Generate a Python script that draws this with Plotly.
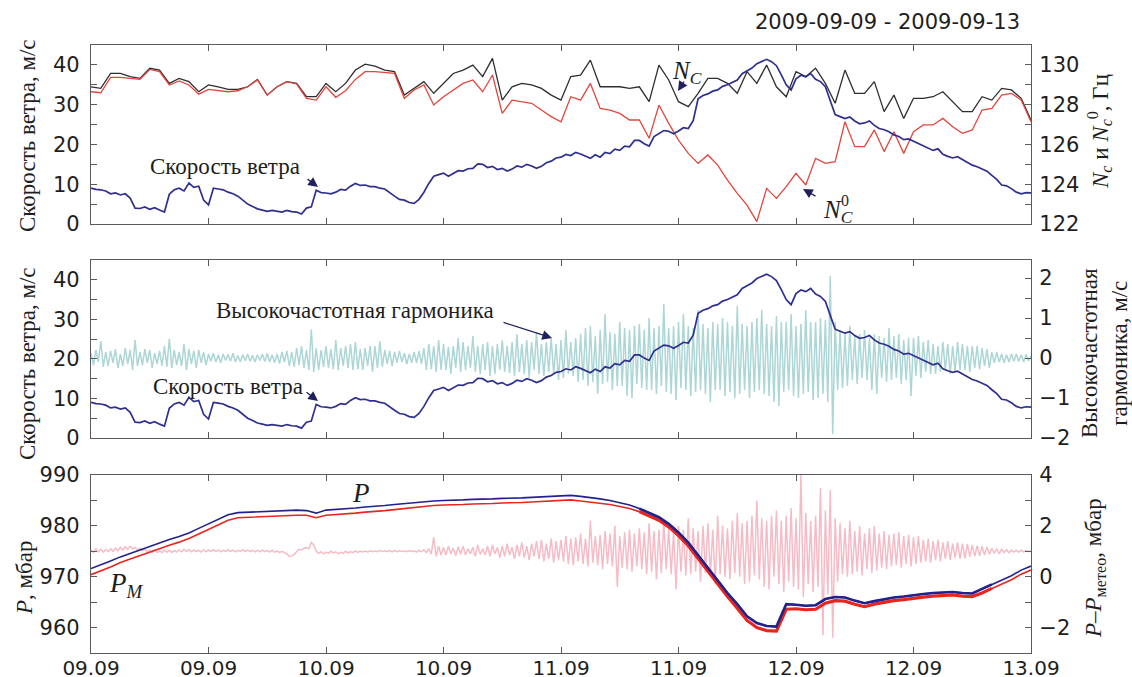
import numpy as np
import plotly.graph_objects as go

# ---- time axis (hours from 2009-09-09 00:00) ----
tick_hours = [0, 12, 24, 36, 48, 60, 72, 84, 96]
tick_labels = ["09.09", "09.09", "10.09", "10.09", "11.09", "11.09", "12.09", "12.09", "13.09"]

# wind speed, m/s, every 0.5 h
wind_speed = [
    9.0, 8.7, 8.6, 8.3, 7.6, 7.8, 7.3, 7.6, 6.5, 4.0,
    3.9, 4.3, 3.7, 4.1, 3.5, 3.0, 7.5, 8.6, 9.0, 8.3,
    10.3, 9.2, 9.5, 6.0, 4.8, 9.0, 8.8, 8.6, 8.0, 7.6,
    7.0, 6.0, 5.0, 4.4, 3.8, 3.5, 3.2, 3.4, 3.2, 3.0,
    3.4, 3.1, 3.0, 2.5, 4.0, 4.3, 8.5, 7.9, 7.8, 7.6,
    8.0, 8.7, 8.5, 9.5, 10.2, 9.7, 9.8, 9.4, 9.4, 9.0,
    8.8, 7.8, 7.0, 6.2, 6.0, 5.4, 5.2, 6.2, 8.0, 10.2,
    12.0, 12.4, 12.8, 12.0, 12.8, 13.4, 13.3, 13.9, 14.0, 15.1,
    15.0, 14.2, 14.5, 13.7, 14.0, 13.3, 13.8, 14.6, 14.3, 15.0,
    14.6, 14.0, 14.5, 15.4, 15.8, 16.6, 16.8, 17.5, 17.2, 18.0,
    17.6, 17.0, 16.5, 17.4, 16.8, 18.0, 17.7, 18.8, 18.5, 19.6,
    19.4, 21.0, 21.0, 20.2, 19.6, 22.0, 22.8, 23.5, 23.3, 22.7,
    23.4, 24.2, 24.0, 26.0, 31.5, 32.3, 32.7, 33.4, 33.7, 34.6,
    35.0, 35.6, 36.2, 37.8, 38.5, 39.2, 40.3, 40.9, 41.4, 40.8,
    39.8, 37.5, 35.0, 33.7, 36.5, 37.4, 37.0, 37.8, 36.4, 35.8,
    34.5, 31.0, 27.5, 27.0, 26.5, 26.9, 25.9, 25.2, 25.4, 25.9,
    24.8, 24.0, 23.7, 23.2, 22.4, 22.0, 21.2, 21.4, 20.8, 20.1,
    19.6, 19.0, 18.5, 18.9, 17.5, 17.0, 16.6, 16.9, 16.2, 15.4,
    14.8, 14.4, 13.8, 13.3, 12.2, 11.2, 9.8, 9.6, 8.9, 8.0,
    7.6, 7.9, 7.8,
]

# N_C and N_C^0, Hz, hourly
nc = [
    128.90, 128.82, 129.57, 129.57, 129.41, 129.32, 129.83, 129.74, 129.07, 129.32,
    129.16, 128.65, 128.99, 128.90, 128.77, 128.77, 128.90, 129.27, 128.48, 128.90,
    129.16, 129.07, 128.40, 128.40, 129.07, 128.65, 129.07, 129.74, 130.04, 129.94,
    129.74, 129.66, 128.48, 128.82, 129.16, 128.57, 129.07, 129.57, 129.74, 129.99,
    129.41, 130.33, 128.23, 128.90, 129.07, 128.99, 128.82, 128.48, 128.23, 129.41,
    129.49, 130.24, 128.90, 128.90, 128.90, 128.82, 128.90, 128.15, 129.99, 129.24,
    128.15, 127.90, 128.57, 129.32, 129.32, 129.07, 128.57, 129.66, 129.07, 129.99,
    128.90, 128.40, 129.66, 129.41, 129.83, 129.07, 128.07, 129.74, 128.57, 128.57,
    129.16, 127.65, 128.48, 127.31, 128.32, 128.32, 128.40, 128.65, 128.15, 127.65,
    127.65, 128.40, 128.23, 128.82, 128.74, 128.32, 127.23,
]
nc0 = [
    128.65, 128.60, 129.37, 129.37, 129.32, 129.27, 129.77, 129.66, 128.99, 129.19,
    128.99, 128.53, 128.77, 128.70, 128.65, 128.70, 128.90, 129.24, 128.48, 128.90,
    129.16, 129.04, 128.32, 128.23, 128.90, 128.37, 128.70, 129.27, 129.66, 129.66,
    129.61, 129.57, 128.32, 128.74, 128.99, 127.98, 128.40, 128.74, 129.07, 129.24,
    128.65, 129.49, 127.56, 128.23, 128.15, 128.07, 127.73, 127.40, 127.14, 128.40,
    128.23, 129.07, 127.81, 127.73, 127.56, 127.23, 127.23, 126.31, 127.98, 127.06,
    126.22, 125.55, 125.05, 125.47, 124.96, 124.21, 123.54, 122.95, 122.12, 123.79,
    123.29, 123.88, 124.55, 123.96, 125.30, 125.05, 125.13, 127.14, 125.89, 125.89,
    126.73, 125.64, 126.64, 125.55, 126.64, 126.98, 126.98, 127.31, 126.89, 126.56,
    126.73, 127.73, 127.81, 128.48, 128.57, 128.23, 127.14,
]

# high-frequency harmonic of wind speed, m/s, every 0.25 h
hf_harmonic = [
    0.12, -0.18, 0.2, -0.1, 0.42, -0.22, 0.15, -0.2,
    0.18, -0.12, 0.22, -0.25, 0.1, -0.2, 0.25, -0.15,
    0.2, -0.3, 0.45, -0.2, 0.15, -0.18, 0.22, -0.12,
    0.2, -0.25, 0.12, -0.15, 0.18, -0.2, 0.3, -0.22,
    0.48, -0.25, 0.2, -0.18, 0.15, -0.2, 0.35, -0.3,
    0.22, -0.15, 0.18, -0.25, 0.2, -0.12, 0.15, -0.18,
    0.1, -0.08, 0.12, -0.1, 0.08, -0.12, 0.1, -0.06,
    0.09, -0.08, 0.12, -0.1, 0.06, -0.1, 0.08, -0.07,
    0.1, -0.08, 0.07, -0.1, 0.08, -0.06, 0.1, -0.09,
    0.12, -0.1, 0.08, -0.12, 0.1, -0.14, 0.15, -0.1,
    0.18, -0.2, 0.15, -0.22, 0.25, -0.18, 0.3, -0.25,
    0.2, -0.3, 0.72, -0.35, 0.25, -0.3, 0.2, -0.22,
    0.3, -0.25, 0.22, -0.28, 0.45, -0.3, 0.25, -0.2,
    0.3, -0.25, 0.35, -0.3, 0.4, -0.28, 0.22, -0.3,
    0.25, -0.2, 0.3, -0.35, 0.3, -0.25, 0.42, -0.22,
    0.2, -0.15, 0.18, -0.2, 0.15, -0.12, 0.18, -0.1,
    0.12, -0.15, 0.1, -0.12, 0.15, -0.12, 0.18, -0.15,
    0.25, -0.3, 0.35, -0.28, 0.3, -0.35, 0.45, -0.3,
    0.35, -0.3, 0.28, -0.4, 0.3, -0.25, 0.5, -0.35,
    0.4, -0.3, 0.3, -0.25, 0.55, -0.35, 0.3, -0.4,
    0.35, -0.3, 0.4, -0.45, 0.3, -0.4, 0.35, -0.3,
    0.45, -0.35, 0.3, -0.38, 0.4, -0.45, 0.6, -0.35,
    0.35, -0.4, 0.45, -0.5, 0.4, -0.3, 0.65, -0.4,
    0.35, -0.45, 0.4, -0.35, 0.5, -0.4, 0.35, -0.55,
    0.45, -0.5, 0.7, -0.4, 0.4, -0.45, 0.5, -0.6,
    0.6, -0.55, 0.75, -0.7, 0.8, -0.6, 0.55, -0.9,
    0.7, -0.65, 1.1, -0.6, 0.65, -0.8, 0.6, -0.7,
    0.9, -0.7, 0.75, -0.95, 0.7, -1.0, 0.8, -0.65,
    0.85, -0.75, 0.7, -0.8, 1.0, -0.8, 0.75, -0.9,
    0.8, -0.7, 1.35, -0.85, 0.75, -0.9, 0.8, -1.05,
    0.9, -0.75, 1.1, -0.8, 0.8, -0.95, 0.75, -0.85,
    1.2, -0.8, 0.85, -0.9, 0.75, -1.1, 0.9, -0.8,
    0.85, -0.8, 1.0, -0.95, 0.9, -0.85, 0.8, -1.0,
    1.3, -0.9, 0.85, -0.8, 0.8, -1.0, 0.9, -0.85,
    1.0, -0.8, 1.2, -0.9, 0.85, -0.95, 0.8, -1.1,
    1.05, -1.2, 0.9, -0.85, 0.9, -0.8, 1.1, -0.95,
    0.8, -1.0, 0.85, -0.9, 1.2, -0.85, 0.9, -1.05,
    0.9, -1.0, 1.0, -0.9, 0.95, -1.1, 2.05, -1.9,
    0.9, -0.8, 0.7, -0.75, 0.6, -0.7, 0.8, -0.55,
    0.55, -0.65, 0.6, -0.5, 0.7, -0.55, 0.5, -0.8,
    0.6, -0.9, 0.55, -0.5, 0.5, -0.6, 0.75, -0.55,
    0.55, -0.5, 0.6, -0.65, 0.45, -0.55, 0.5, -0.95,
    0.5, -0.45, 0.55, -0.5, 0.4, -0.35, 0.45, -0.4,
    0.35, -0.4, 0.3, -0.35, 0.4, -0.3, 0.35, -0.4,
    0.3, -0.35, 0.4, -0.3, 0.35, -0.3, 0.3, -0.35,
    0.3, -0.25, 0.3, -0.28, 0.25, -0.2, 0.22, -0.25,
    0.15, -0.12, 0.15, -0.1, 0.1, -0.12, 0.08, -0.1,
    0.1, -0.08, 0.1, -0.09, 0.08, -0.1, 0.09, -0.07,
    0.05,
]

# station pressure P and meteo pressure P_M, mbar, hourly
p_station = [
    971.6, 972.3, 973.1, 973.9, 974.6, 975.2, 975.9, 976.6, 977.3, 977.9,
    978.6, 979.5, 980.4, 981.3, 982.2, 982.6, 982.7, 982.7, 982.8, 982.9,
    983.0, 983.1, 983.0, 982.5, 983.1, 983.2, 983.4, 983.5, 983.7, 983.8,
    984.0, 984.2, 984.4, 984.6, 984.8, 984.9, 985.0, 985.0, 985.1, 985.2,
    985.2, 985.3, 985.4, 985.4, 985.5, 985.6, 985.7, 985.8, 985.9, 986.0,
    985.8, 985.6, 985.3, 985.0, 984.6, 984.1, 983.4, 982.6, 981.7, 980.4,
    978.7, 976.7, 974.2, 971.7, 969.2, 966.8, 964.6, 962.2, 960.9, 960.3,
    960.2, 964.6, 964.5, 964.3, 964.4, 965.6, 966.0, 965.9, 965.3, 964.8,
    965.2, 965.6, 965.9, 966.1, 966.4, 966.6, 966.8, 966.9, 967.0, 966.8,
    966.7, 967.6, 968.5, 969.3, 970.2, 971.3, 972.1,
]
p_meteo = [
    970.4, 971.1, 971.9, 972.8, 973.5, 974.1, 974.8, 975.5, 976.2, 976.8,
    977.5, 978.4, 979.3, 980.2, 981.1, 981.6, 981.7, 981.7, 981.8, 981.9,
    982.0, 982.1, 982.1, 981.6, 982.1, 982.2, 982.4, 982.5, 982.7, 982.8,
    983.0, 983.2, 983.4, 983.6, 983.9, 984.0, 984.1, 984.1, 984.2, 984.3,
    984.3, 984.4, 984.5, 984.5, 984.6, 984.7, 984.8, 984.9, 985.0, 985.1,
    984.9, 984.7, 984.4, 984.2, 983.8, 983.4, 982.8, 982.0, 981.1, 979.8,
    978.1, 976.1, 973.6, 971.0, 968.5, 966.1, 963.8, 961.4, 960.0, 959.4,
    959.3, 963.6, 963.7, 963.5, 963.6, 964.8, 965.3, 965.2, 964.6, 964.1,
    964.6, 965.0, 965.3, 965.5, 965.8, 966.0, 966.2, 966.3, 966.4, 966.2,
    966.1, 966.8, 967.7, 968.5, 969.4, 970.5, 971.3,
]

# P - P_meteo, mbar, every 0.25 h
p_resid = [
    1.05, 0.95, 1.1, 0.98, 1.08, 0.97, 1.06, 0.99,
    1.1, 1.0, 1.12, 1.02, 1.15, 1.05, 1.18, 1.08,
    1.2, 1.1, 1.15, 1.05, 1.12, 1.02, 1.08, 0.98,
    1.05, 0.96, 1.04, 0.95, 1.02, 0.94, 1.05, 0.96,
    1.04, 0.95, 1.03, 0.97, 1.05, 0.98, 1.08, 1.0,
    1.06, 0.98, 1.05, 0.99, 1.04, 0.97, 1.06, 0.98,
    1.05, 0.99, 1.06, 1.0, 1.05, 0.98, 1.04, 0.99,
    1.06, 1.0, 1.05, 0.98, 1.04, 0.99, 1.06, 1.0,
    1.05, 0.99, 1.04, 0.98, 1.04, 0.98, 1.05, 0.99,
    1.03, 0.97, 1.04, 0.96, 1.02, 0.95, 1.0, 0.94,
    0.9, 0.8, 0.82, 0.88, 1.0, 1.08, 1.05, 1.12,
    1.15, 1.1, 1.35, 1.25, 1.0, 0.92, 0.98, 0.9,
    0.96, 0.92, 1.0, 0.94, 0.98, 0.9, 0.96, 0.92,
    1.0, 0.94, 0.98, 0.95, 1.02, 0.96, 1.0, 0.97,
    1.01, 0.97, 1.02, 0.98, 1.02, 0.98, 1.03, 0.99,
    1.02, 0.99, 1.03, 0.98, 1.03, 0.98, 1.02, 0.99,
    1.02, 0.98, 1.03, 0.99, 1.02, 0.97, 1.04, 0.98,
    1.06, 0.95, 1.1, 0.9, 1.55, 0.8, 1.2, 0.85,
    1.15, 0.85, 1.2, 0.9, 1.12, 0.82, 1.18, 0.88,
    1.2, 0.85, 1.1, 0.9, 1.15, 0.8, 1.25, 0.88,
    1.1, 0.85, 1.2, 0.8, 1.25, 0.9, 1.15, 0.75,
    1.2, 0.8, 1.3, 0.85, 1.15, 0.7, 1.25, 0.8,
    1.35, 0.75, 1.2, 0.65, 1.3, 0.8, 1.4, 0.7,
    1.45, 0.6, 1.3, 0.7, 1.5, 0.55, 1.4, 0.65,
    1.45, 0.6, 1.6, 0.5, 1.5, 0.45, 1.55, 0.6,
    1.7, 0.5, 1.5, 0.4, 2.2, 0.55, 1.6, 0.45,
    1.65, 0.3, 1.8, 0.5, 1.7, 0.4, 2.0, -0.4,
    1.6, 0.35, 1.75, 0.3, 1.85, 0.2, 1.7, 0.4,
    1.9, 0.3, 1.75, 0.1, 2.1, 0.2, 1.8, -0.1,
    1.85, 0.15, 2.2, 0.3, 1.9, 0.1, 1.75, -0.5,
    2.0, 0.2, 1.85, 0.05, 2.3, 0.1, 1.9, 0.2,
    1.8, -0.2, 2.0, 0.15, 2.1, 0.05, 1.85, -0.3,
    2.4, 0.1, 2.0, 0.0, 1.9, -0.1, 2.2, 0.15,
    2.5, 0.0, 2.1, -0.3, 2.2, -0.2, 2.4, 0.05,
    3.0, -0.1, 2.3, -0.4, 2.2, -0.5, 2.4, 0.0,
    2.6, -0.3, 2.2, -0.6, 2.4, -0.2, 2.7, -0.4,
    2.3, -0.5, 4.0, -0.8, 2.5, -0.3, 2.2, -0.6,
    2.4, -0.4, 3.5, -2.3, 2.6, -0.7, 3.4, -2.4,
    2.3, -0.2, 2.1, 0.1, 1.9, 0.0, 2.2, 0.1,
    1.8, 0.2, 2.0, 0.05, 1.7, 0.3, 1.9, 0.15,
    2.0, 0.25, 1.7, 0.35, 1.8, 0.3, 1.65, 0.4,
    1.7, 0.45, 1.75, 0.35, 1.6, 0.5, 1.65, 0.4,
    1.55, 0.5, 1.6, 0.55, 1.45, 0.6, 1.5, 0.55,
    1.4, 0.65, 1.45, 0.6, 1.35, 0.7, 1.4, 0.65,
    1.3, 0.75, 1.35, 0.7, 1.3, 0.72, 1.28, 0.78,
    1.25, 0.8, 1.22, 0.82, 1.2, 0.85, 1.18, 0.88,
    1.12, 0.92, 1.1, 0.9, 1.08, 0.95, 1.06, 0.94,
    1.05, 0.97, 1.04, 0.96, 1.04, 0.98, 1.03, 0.99,
    1.0,
]

# time grids for each sampling step
t_wind = np.arange(len(wind_speed)) * 0.5
t_hour = np.arange(len(nc)) * 1.0
t_quarter = np.arange(len(hf_harmonic)) * 0.25
t_resid = np.arange(len(p_resid)) * 0.25

# ---- styling ----
W, H = 1132, 677
SANS = "DejaVu Sans"
SERIF = "Liberation Serif"
INK = "#1e1e1e"
FRAME = "#5a5a5a"
C_WIND = "#2f2f90"
C_NC = "#2e2e2e"
C_NC0 = "#e2463e"
C_HF = "#add6d6"
C_RESID = "#f6bcc6"
C_P = "#22228c"
C_PM = "#e8261f"
ARROW = "#20205e"

XD = [91 / W, 1031 / W]


def ydom(top, bottom):
    return [1 - bottom / H, 1 - top / H]


def pp(x, y):
    return x / W, 1 - y / H


fig = go.Figure()

# panel 1: N_C (right axis) and wind (left axis, drawn on top)
fig.add_trace(go.Scatter(x=t_hour, y=nc, xaxis="x", yaxis="y", mode="lines",
                         line=dict(color=C_NC, width=1.3)))
fig.add_trace(go.Scatter(x=t_hour, y=nc0, xaxis="x", yaxis="y", mode="lines",
                         line=dict(color=C_NC0, width=1.3)))
fig.add_trace(go.Scatter(x=t_wind, y=wind_speed, xaxis="x", yaxis="y2", mode="lines",
                         line=dict(color=C_WIND, width=1.7)))

# panel 2: harmonic (right axis) and wind (left axis)
fig.add_trace(go.Scatter(x=t_quarter, y=hf_harmonic, xaxis="x2", yaxis="y3", mode="lines",
                         line=dict(color=C_HF, width=1.5)))
fig.add_trace(go.Scatter(x=t_wind, y=wind_speed, xaxis="x2", yaxis="y4", mode="lines",
                         line=dict(color=C_WIND, width=1.7)))

# panel 3: residual (right axis) and pressures (left axis)
fig.add_trace(go.Scatter(x=t_resid, y=p_resid, xaxis="x3", yaxis="y5", mode="lines",
                         line=dict(color=C_RESID, width=1.5)))
fig.add_trace(go.Scatter(x=t_hour, y=p_meteo, xaxis="x3", yaxis="y6", mode="lines",
                         line=dict(color=C_PM, width=1.6)))
fig.add_trace(go.Scatter(x=t_hour, y=p_station, xaxis="x3", yaxis="y6", mode="lines",
                         line=dict(color=C_P, width=1.6)))
# thicker traces through the storm interval
storm = slice(56, 93)
fig.add_trace(go.Scatter(x=t_hour[storm], y=p_meteo[storm], xaxis="x3", yaxis="y6", mode="lines",
                         line=dict(color=C_PM, width=3.2)))
fig.add_trace(go.Scatter(x=t_hour[storm], y=p_station[storm], xaxis="x3", yaxis="y6", mode="lines",
                         line=dict(color=C_P, width=2.6)))

tickfont = dict(family=SANS, size=21, color=INK)


def xaxis(anchor, labels):
    return dict(domain=XD, anchor=anchor, range=[0, 96], tickmode="array",
                tickvals=tick_hours, ticktext=tick_labels, showticklabels=labels,
                ticks="inside", ticklen=6, tickcolor=FRAME, showline=True, linecolor=FRAME,
                linewidth=1.2, mirror="ticks", showgrid=False, zeroline=False,
                tickfont=dict(family=SANS, size=20, color=INK), ticklabelstandoff=-3,
                automargin=False)


def yaxis(side, rng, vals, texts, dom=None, anchor="x", overlaying=None):
    d = dict(side=side, range=rng, tickmode="array", tickvals=vals, ticktext=texts,
             ticks="inside", ticklen=6, tickcolor=FRAME, showline=True, linecolor=FRAME,
             linewidth=1.2, showgrid=False, zeroline=False, tickfont=tickfont,
             anchor=anchor, automargin=False,
             ticklabelstandoff=6 if side == "left" else 3)
    if dom is not None:
        d["domain"] = dom
    if overlaying is not None:
        d["overlaying"] = overlaying
    return d


wind_ticks = [0, 5, 10, 15, 20, 25, 30, 35, 40]
wind_text = ["0", "", "10", "", "20", "", "30", "", "40"]
nc_ticks = [122, 123, 124, 125, 126, 127, 128, 129, 130]
nc_text = ["122", "", "124", "", "126", "", "128", "", "130"]
hf_ticks = [-2, -1.5, -1, -0.5, 0, 0.5, 1, 1.5, 2]
hf_text = ["\u22122", "", "\u22121", "", "0", "", "1", "", "2"]
p_ticks = [960, 965, 970, 975, 980, 985, 990]
p_text = ["960", "", "970", "", "980", "", "990"]
r_ticks = [-2, -1, 0, 1, 2, 3, 4]
r_text = ["\u22122", "", "0", "", "2", "", "4"]

fig.update_layout(
    width=W, height=H,
    margin=dict(l=0, r=0, t=0, b=0),
    paper_bgcolor="white", plot_bgcolor="white",
    showlegend=False,
    xaxis=xaxis("y", False),
    xaxis2=xaxis("y3", False),
    xaxis3=xaxis("y5", True),
    yaxis=yaxis("right", [122, 131], nc_ticks, nc_text, ydom(45, 224), "x"),
    yaxis2=yaxis("left", [0, 45], wind_ticks, wind_text, None, "x", "y"),
    yaxis3=yaxis("right", [-2, 2.45], hf_ticks, hf_text, ydom(260, 438), "x2"),
    yaxis4=yaxis("left", [0, 45], wind_ticks, wind_text, None, "x2", "y3"),
    yaxis5=yaxis("right", [-3, 4], r_ticks, r_text, ydom(475, 653), "x3"),
    yaxis6=yaxis("left", [955, 990], p_ticks, p_text, None, "x3", "y5"),
)


def label(text, x, y, size, angle=0, family=SERIF, xanchor="center", yanchor="middle"):
    px_, py_ = pp(x, y)
    return dict(text=text, x=px_, y=py_, xref="paper", yref="paper", showarrow=False,
                textangle=angle, xanchor=xanchor, yanchor=yanchor,
                font=dict(family=family, size=size, color=INK))


def arrow(x0, y0, x1, y1):
    px_, py_ = pp(x1, y1)
    return dict(text="", x=px_, y=py_, xref="paper", yref="paper", showarrow=True,
                ax=x0 - x1, ay=y0 - y1, axref="pixel", ayref="pixel",
                arrowhead=2, arrowsize=1.5, arrowwidth=1.3, arrowcolor=ARROW, standoff=0)


annotations = [
    label("2009-09-09 - 2009-09-13", 1022, 22, 21, family=SANS, xanchor="right"),
    # axis titles
    label("Скорость ветра, м/с", 27, 136, 23, angle=-90),
    label("<i>N</i><sub><i>c</i></sub> и <i>N</i><sub><i>c</i></sub><sup>0</sup>, Гц",
          1099, 132, 23, angle=-90),
    label("Скорость ветра, м/с", 27, 364, 23, angle=-90),
    label("Высокочастотная<br>гармоника, м/с", 1104, 353, 23, angle=-90),
    label("<i>P</i>, мбар", 24, 578, 23, angle=-90),
    label("<i>P</i>–<i>P</i><sub>метео</sub>, мбар", 1095, 568, 23, angle=-90),
    # in-plot labels
    label("Скорость ветра", 225, 167, 23),
    arrow(306, 178, 318, 187),
    label("<i>N</i><sub><i>C</i></sub>", 670, 72, 25, xanchor="left"),
    arrow(685, 80, 678, 91),
    label("<i>N</i><sub><i>C</i></sub>", 821, 212, 25, xanchor="left"),
    label("0", 845, 200, 16),
    arrow(817, 197, 803, 189),
    label("Высокочастотная гармоника", 355, 311, 23),
    arrow(502, 322, 552, 338),
    label("Скорость ветра", 228, 386, 23),
    arrow(305, 391, 318, 401),
    label("<i>P</i>", 361, 493, 27),
    label("<i>P</i><sub><i>M</i></sub>", 126, 585, 27),
]
fig.update_layout(annotations=annotations)

fig.write_html("out.html")
